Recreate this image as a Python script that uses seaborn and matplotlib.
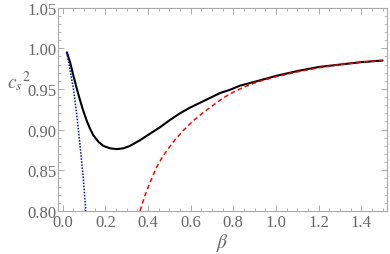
import numpy as np
import pandas as pd
import matplotlib
matplotlib.use("Agg")
import matplotlib.pyplot as plt
import seaborn as sns
from matplotlib.ticker import MultipleLocator, FormatStrFormatter

# full result (black)
beta_full = [0.020, 0.035, 0.051, 0.067, 0.082, 0.097, 0.113, 0.129, 0.144, 0.168,
             0.191, 0.222, 0.254, 0.285, 0.316, 0.363, 0.410, 0.457, 0.504, 0.550,
             0.597, 0.644, 0.691, 0.738, 0.785, 0.831, 0.917, 1.0, 1.1, 1.2, 1.3, 1.4, 1.5]
cs2_full = [0.995, 0.983, 0.966, 0.950, 0.936, 0.923, 0.911, 0.901, 0.893, 0.885,
            0.880, 0.877, 0.876, 0.877, 0.880, 0.887, 0.895, 0.903, 0.912, 0.920,
            0.927, 0.933, 0.939, 0.945, 0.949, 0.954, 0.960, 0.966, 0.972, 0.977, 0.980, 0.983, 0.985]

# large-beta expansion (red dashed)
beta_large = [0.363, 0.386, 0.410, 0.441, 0.472, 0.519, 0.566, 0.613, 0.660, 0.706,
              0.753, 0.800, 0.847, 0.917, 1.0, 1.1, 1.2, 1.3, 1.4, 1.5]
cs2_large = [0.800, 0.819, 0.835, 0.854, 0.868, 0.885, 0.899, 0.911, 0.921, 0.930,
             0.939, 0.946, 0.952, 0.959, 0.965, 0.971, 0.976, 0.980, 0.983, 0.985]

# small-beta expansion (blue dotted)
beta_small = [0.020, 0.035, 0.051, 0.067, 0.082, 0.096, 0.109]
cs2_small = [0.995, 0.973, 0.950, 0.917, 0.880, 0.843, 0.800]

sns.set_style("ticks")
plt.rcParams['font.family'] = ['Liberation Serif', 'DejaVu Serif']
plt.rcParams['mathtext.fontset'] = 'stix'

fig = plt.figure(figsize=(3.9, 2.55), dpi=100)
ax = fig.add_axes([0.149, 0.169, 0.843, 0.797])

sns.lineplot(x=beta_full, y=cs2_full, ax=ax, color='black', lw=1.5, sort=False)
sns.lineplot(x=beta_large, y=cs2_large, ax=ax, color='red', lw=1.1, sort=False, linestyle=(0, (3, 2)))
sns.lineplot(x=beta_small, y=cs2_small, ax=ax, color='blue', lw=1.1, sort=False, linestyle=(0, (1, 1)))

ax.set_xlim(-0.021, 1.52)
ax.set_ylim(0.80, 1.05)
ax.xaxis.set_major_locator(MultipleLocator(0.2))
ax.xaxis.set_minor_locator(MultipleLocator(0.05))
ax.yaxis.set_major_locator(MultipleLocator(0.05))
ax.yaxis.set_minor_locator(MultipleLocator(0.01))
ax.xaxis.set_major_formatter(FormatStrFormatter('%.1f'))
ax.yaxis.set_major_formatter(FormatStrFormatter('%.2f'))

gray = '#666666'
for s in ax.spines.values():
    s.set_color('#aaaaaa')
    s.set_linewidth(0.8)
ax.tick_params(which='both', direction='in', top=True, right=True, colors='#aaaaaa',
               labelcolor=gray, labelsize=12)
ax.tick_params(axis='x', pad=2)
ax.tick_params(axis='y', pad=1)
ax.tick_params(which='major', length=4, width=0.7)
ax.tick_params(which='minor', length=2, width=0.6)

ax.set_xlabel(r'$\beta$', color=gray, fontsize=14, labelpad=1)
ax.set_ylabel(r'$c_s{}^2$', color=gray, fontsize=14, rotation=0, labelpad=12)
ax.yaxis.set_label_coords(-0.12, 0.58)

fig.savefig('out.png', dpi=100)
